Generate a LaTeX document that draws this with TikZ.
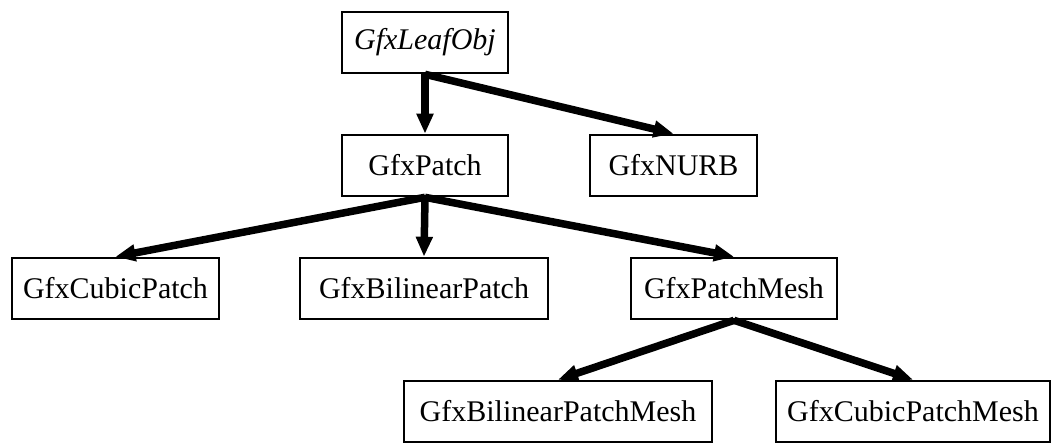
\documentclass[tikz,border=0pt]{standalone}
\usepackage{fontspec}
\setmainfont{Liberation Serif}
\usetikzlibrary{arrows.meta}
\begin{document}
\begin{tikzpicture}[x=1pt,y=-1pt,
  cls/.style={draw=black, line width=2.6pt, fill=white, inner sep=0pt, minimum height=61pt,
    font=\fontsize{30}{34}\selectfont},
  inh/.style={line width=7.5pt, -{Triangle[length=20pt,width=16pt]}}
]
\useasboundingbox (0,0) rectangle (1057,444);
\node[cls, minimum width=166pt] (leaf) at (425,42.5) {\itshape GfxLeafObj};
\node[cls, minimum width=166pt] (patch) at (425,165.5) {GfxPatch};
\node[cls, minimum width=167pt] (nurb) at (673.5,165.5) {GfxNURB};
\node[cls, minimum width=207pt] (cubic) at (115.5,288.5) {GfxCubicPatch};
\node[cls, minimum width=248pt] (bilin) at (424,288.5) {GfxBilinearPatch};
\node[cls, minimum width=206pt] (mesh) at (734,288.5) {GfxPatchMesh};
\node[cls, minimum width=308pt] (bmesh) at (558,411.5) {GfxBilinearPatchMesh};
\node[cls, minimum width=274pt] (cmesh) at (913,411.5) {GfxCubicPatchMesh};
\draw[inh] (leaf.south) -- (patch.north);
\draw[inh] (leaf.south) -- (nurb.north);
\draw[inh] (patch.south) -- (cubic.north);
\draw[inh] (patch.south) -- (bilin.north);
\draw[inh] (patch.south) -- (mesh.north);
\draw[inh] (mesh.south) -- (bmesh.north);
\draw[inh] (mesh.south) -- (cmesh.north);
\end{tikzpicture}
\end{document}
